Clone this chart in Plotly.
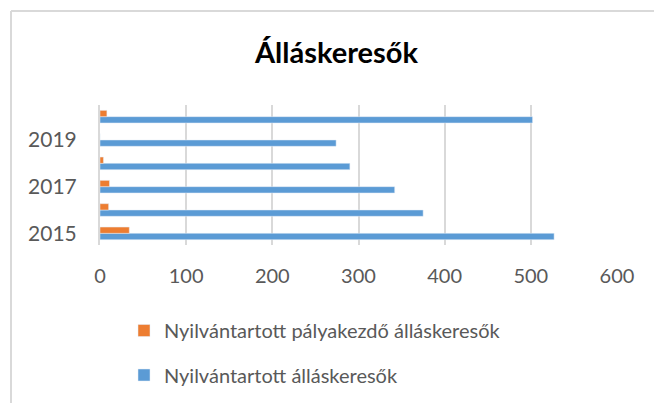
import plotly.graph_objects as go

years = ["2015", "2016", "2017", "2018", "2019", "2020"]
allaskeresok = [527, 375, 342, 290, 274, 502]
palyakezdo = [34, 10, 11, 4, 0, 8]
tick_years = ["2015", "2017", "2019"]
x_ticks = [0, 100, 200, 300, 400, 500, 600]

FONT = "Lato"
GRAY = "#595959"

fig = go.Figure()
fig.add_trace(go.Bar(
    y=years, x=allaskeresok, orientation="h", name="Nyilvántartott álláskeresők",
    marker=dict(color="#5B9BD5"), legendgroup="b", legendrank=2))
fig.add_trace(go.Bar(
    y=years, x=palyakezdo, orientation="h", name="Nyilvántartott pályakezdő álláskeresők",
    marker=dict(color="#ED7D31"), legendgroup="a", legendrank=1))

W, H = 654, 403
L, R, T, B = 100, 37, 105, 158
pw, ph = W - L - R, H - T - B

def px_x(p):
    return (p - L) / pw

def px_y(p):
    return (H - B - p) / ph

fig.update_layout(
    width=W, height=H,
    margin=dict(l=L, r=R, t=T, b=B, autoexpand=False),
    paper_bgcolor="white", plot_bgcolor="white",
    barmode="group", bargap=0.46, bargroupgap=0,
    title=dict(text="<b>Álláskeresők</b>", x=336.5 / W, xanchor="center",
               y=1 - 53 / H, yanchor="middle",
               font=dict(family=FONT, size=29, color="#000000")),
    font=dict(family=FONT, size=20, color=GRAY),
    xaxis=dict(range=[0, 600], tickvals=x_ticks, showgrid=True,
               gridcolor="#D9D9D9", gridwidth=2, zeroline=False,
               showline=False, ticks="", ticklabelstandoff=17, automargin=False,
               tickfont=dict(family=FONT, size=20, color=GRAY), fixedrange=True),
    yaxis=dict(type="category", categoryorder="array", categoryarray=years,
               tickvals=tick_years, showgrid=False, zeroline=False,
               showline=True, linecolor="#D9D9D9", linewidth=2,
               ticks="", ticklabelstandoff=17, automargin=False,
               tickfont=dict(family=FONT, size=21, color=GRAY),
               range=[-0.5, 5.5], fixedrange=True),
    legend=dict(orientation="v", traceorder="grouped",
                x=px_x(124), y=px_y(311), xanchor="left", yanchor="top",
                tracegroupgap=15.5, font=dict(family=FONT, size=20, color=GRAY),
                bgcolor="rgba(0,0,0,0)"),
    showlegend=True,
    shapes=[
        dict(type="line", xref="paper", yref="paper",
             x0=px_x(11), x1=px_x(W + 5), y0=px_y(11), y1=px_y(11),
             line=dict(color="#D9D9D9", width=2)),
        dict(type="line", xref="paper", yref="paper",
             x0=px_x(11), x1=px_x(11), y0=px_y(11), y1=px_y(H + 5),
             line=dict(color="#D9D9D9", width=2)),
    ],
)

fig.write_html("out.html", config={"displayModeBar": False},
               post_script="document.body.style.margin='0px';")
